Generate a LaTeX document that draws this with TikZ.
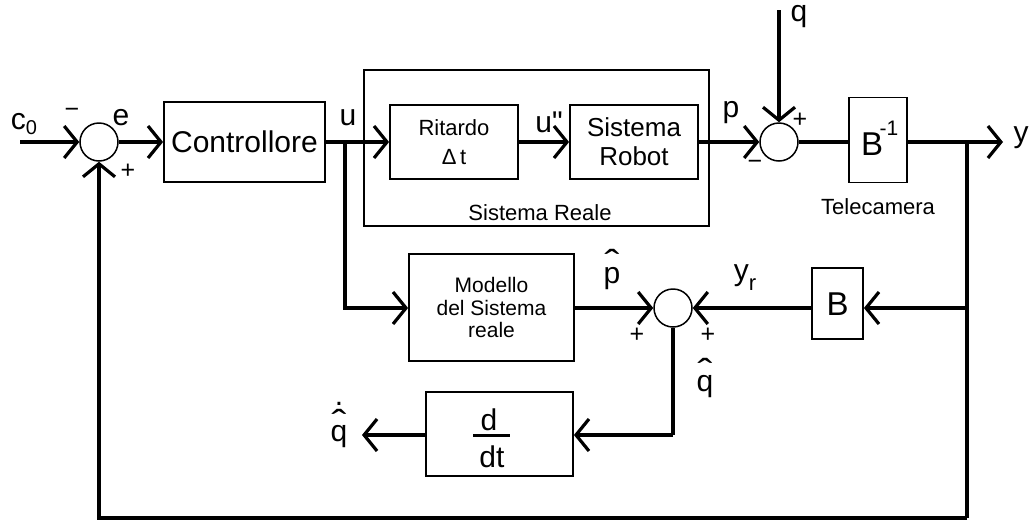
\documentclass[tikz,border=0pt]{standalone}
\usepackage{fontspec}
\usepackage{graphicx}
\setmainfont{Liberation Sans}
\newfontfamily\rawf{Liberation Sans}[Ligatures=TeXOff]
\usetikzlibrary{arrows.meta,calc}
\newcommand{\myfs}[1]{\fontsize{#1}{#1}\selectfont}
\newcommand{\myhat}{\scalebox{1.5}[1.2]{ˆ}}
\newcommand{\hatted}[2]{\ooalign{#1\cr\hidewidth\raisebox{#2}{\myhat}\hidewidth\cr}}
\begin{document}
\begin{tikzpicture}[x=1pt,y=-1pt,
  blk/.style={draw, line width=1.8pt, inner sep=0pt, align=center},
  sumc/.style={draw, circle, line width=1.5pt, minimum size=38pt, inner sep=0pt},
  wire/.style={line width=3.2pt},
  arr/.style={wire, -{Straight Barb[length=13pt,width=32pt]}},
  big/.style={font=\myfs{30}, inner sep=0pt},
  sml/.style={font=\myfs{25}, inner sep=0pt},
  mid/.style={font=\myfs{22}, inner sep=0pt}
]
\useasboundingbox (0,0) rectangle (1029,523);

% blocks
\node[sumc] (s1) at (99,142) {};
\node[blk, big, minimum width=161pt, minimum height=80pt] (ctrl) at (244.5,142) {Controllore};
\node[blk, minimum width=345pt, minimum height=156pt] (sr) at (536.5,148) {};
\node[blk, font=\fontsize{22}{29}\selectfont, minimum width=128pt, minimum height=74pt] (rit) at (454,142) {Ritardo\\Δ\,t};
\node[blk, font=\fontsize{26}{29}\selectfont, minimum width=128pt, minimum height=74pt] (rob) at (634,142) {Sistema\\Robot};
\node[sumc] (s2) at (779,142) {};
\node[blk, minimum width=58pt, minimum height=85pt] (binv) at (878,140) {};
\node[blk, font=\fontsize{21}{22.5}\selectfont, minimum width=165pt, minimum height=107pt] (mod) at (491.5,307.5) {Modello\\del Sistema\\reale};
\node[sumc] (s3) at (673,308) {};
\node[blk, minimum width=51pt, minimum height=71pt] (bb) at (837.5,303.5) {};
\node[blk, minimum width=147pt, minimum height=84pt] (ddt) at (499.5,434) {};

% coordinates
\coordinate (c0in) at (20,142);
\coordinate (jU) at (345,142);
\coordinate (qin) at (779,10);
\coordinate (yout) at (1003,142);
\coordinate (jY) at (967,142);
\coordinate (jB) at (967,308);
\coordinate (jBot) at (967,518);
\coordinate (cq) at (673,435);
\coordinate (qdout) at (362,435);

% connectors
\draw[arr] (c0in) -- (s1.west);
\draw[arr] (s1.east) -- (ctrl.west);
\draw[arr] (ctrl.east) -- (rit.west);
\draw[arr] (rit.east) -- (rob.west);
\draw[arr] (rob.east) -- (s2.west);
\draw[arr] (qin) -- (s2.north);
\draw[wire] (s2.east) -- (binv.west |- s2);
\draw[arr] (binv.east |- s2) -- (yout);
\draw[arr] (jU) |- (mod.west |- s3);
\draw[arr] (mod.east |- s3) -- (s3.west);
\draw[arr] (jB) -- (bb.east |- jB);
\draw[arr] (bb.west |- s3) -- (s3.east);
\draw[wire] (jY) -- (jBot);
\draw[arr] (jBot) -| (s1.south);
\draw[wire] (s3.south) -- (cq);
\draw[arr] (cq) -- (ddt.east |- cq);
\draw[arr] (ddt.west |- cq) -- (qdout);

% block texts
\node[font=\myfs{33}, inner sep=0pt] (btxt) at (872,144) {B};
\node[font=\myfs{21}, inner sep=0pt] (bexp) at (889,128) {-1};
\node[font=\myfs{33}, inner sep=0pt] (bbtxt) at (837.5,304) {B};
\node[big] (dnum) at (489,420) {d};
\node[big] (dden) at (492,457) {dt};
\draw[line width=3pt] (473,435) -- (510,435);

% labels
\node[mid] (lsr) at (540,213) {Sistema Reale};
\node[mid] (ltel) at (878,207) {Telecamera};
\node[big] (lc0) at (24,124) {c\raisebox{-5pt}{\myfs{20}0}};
\node[sml] (m1) at (72,113) {−};
\node[big] (le) at (121,118) {e};
\node[sml] (p1) at (128,171) {+};
\node[big] (lu) at (348,118) {u};
\node[big, font=\rawf\myfs{30}] (lu2) at (549,122) {u"};
\node[big] (lp) at (731,113) {p};
\node[big] (lq) at (799,17) {q};
\node[sml] (p2) at (800,120) {+};
\node[sml] (m2) at (755,165) {−};
\node[big] (ly) at (1021,138) {y};
\node[big, anchor=base] (lph) at (612,283) {\hatted{p}{8pt}};
\node[big] (lyr) at (745,278) {y\raisebox{-10pt}{\myfs{22}r}};
\node[sml] (p3) at (637,335) {+};
\node[sml] (p4) at (708,335) {+};
\node[big, anchor=base] (lqh) at (705,391) {\hatted{q}{7pt}};
\node[big, anchor=base] (lqd) at (339,441) {\ooalign{q\cr\hidewidth\raisebox{6pt}{\myhat}\hidewidth\cr\hidewidth\raisebox{36pt}{.}\hidewidth\cr}};
\end{tikzpicture}
\end{document}
